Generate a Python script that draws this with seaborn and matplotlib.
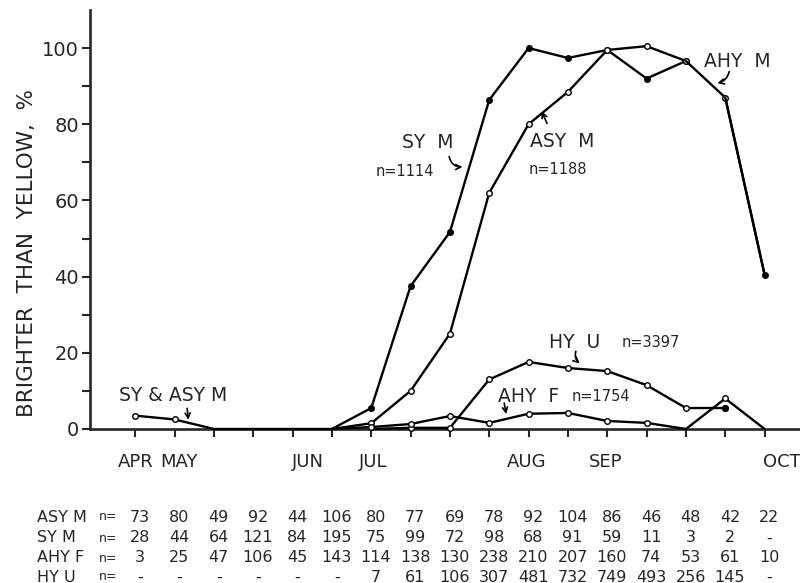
import numpy as np
import pandas as pd
import matplotlib
matplotlib.use("Agg")
import matplotlib.pyplot as plt
import seaborn as sns
from matplotlib.patches import FancyArrowPatch
from matplotlib.transforms import blended_transform_factory

# half-month sampling periods, APR .. early OCT
periods = list(range(17))
month_labels = ["APR", "MAY", "JUN", "JUL", "AUG", "SEP", "OCT"]
month_pos = [0, 1.1, 4.4, 6.05, 9.95, 11.95, 16.45]

# % brighter than yellow
early_x = [0, 1, 2, 3, 4, 5]
early_y = [3.5, 2.5, 0, 0, 0, 0]

sym_x = [5, 6, 7, 8, 9, 10, 11, 12, 13, 14]
sym_y = [0, 5.5, 37.5, 51.7, 86.4, 100, 97.4, 99.5, 92, 96.6]

asym_x = [5, 6, 7, 8, 9, 10, 11, 12, 13, 14]
asym_y = [0, 1.5, 10, 25, 62, 80, 88.5, 99.5, 100.5, 96.6]

ahym_x = [14, 15, 16]
ahym_y = [96.6, 87, 40.5]

hyu_x = [6, 7, 8, 9, 10, 11, 12, 13, 14, 15]
hyu_y = [0, 0.3, 0.3, 13, 17.6, 16, 15.2, 11.5, 5.5, 5.5]

ahyf_x = [5, 6, 7, 8, 9, 10, 11, 12, 13, 14, 15, 16]
ahyf_y = [0, 0.5, 1.3, 3.4, 1.6, 4, 4.2, 2.1, 1.6, 0, 8, 0]

# sample sizes table under the chart
row_names = ["ASY M", "SY M", "AHY F", "HY U"]
asym_n = ["73", "80", "49", "92", "44", "106", "80", "77", "69", "78", "92", "104", "86", "46", "48", "42", "22"]
sym_n = ["28", "44", "64", "121", "84", "195", "75", "99", "72", "98", "68", "91", "59", "11", "3", "2", "-"]
ahyf_n = ["3", "25", "47", "106", "45", "143", "114", "138", "130", "238", "210", "207", "160", "74", "53", "61", "10"]
hyu_n = ["-", "-", "-", "-", "-", "-", "7", "61", "106", "307", "481", "732", "749", "493", "256", "145", "-"]
table_rows = [asym_n, sym_n, ahyf_n, hyu_n]

sns.set_style("ticks")
plt.rcParams["font.family"] = ["DejaVu Sans"]

fig = plt.figure(figsize=(8, 5.83), dpi=100)
ax = fig.add_axes([0.1125, 0.2642, 0.8875, 0.7187])


def draw(x, y, filled=False, mark=None):
    if mark is None:
        mark = [i for i, v in enumerate(y) if v > 0.2]
    sns.lineplot(
        x=x, y=y, ax=ax, color="black", lw=1.7,
        marker="o", markersize=4,
        markerfacecolor="black" if filled else "white",
        markeredgecolor="black", markeredgewidth=1,
        markevery=mark, clip_on=False, zorder=3,
    )


draw(early_x, early_y)
draw(sym_x, sym_y, filled=True)
draw(asym_x, asym_y)
draw(ahym_x, ahym_y, mark=[1])
draw(ahym_x[1:], ahym_y[1:], filled=True, mark=[1])
draw(hyu_x, hyu_y)
draw(hyu_x[-1:], hyu_y[-1:], filled=True)
draw(ahyf_x, ahyf_y)

ax.set_xlim(-1.15, 16.9)
ax.set_ylim(0, 110)
sns.despine(ax=ax)
ax.spines["left"].set_linewidth(1.9)
ax.spines["bottom"].set_linewidth(1.9)

ax.set_yticks([0, 20, 40, 60, 80, 100])
ax.set_yticks([10, 30, 50, 70, 90], minor=True)
ax.tick_params(axis="y", which="both", length=6, width=1.5, labelsize=14, pad=2)
ax.set_xticks(periods)
ax.set_xticklabels([])
ax.tick_params(axis="x", which="major", length=6, width=1.5, direction="out")
ax.set_ylabel("")
ax.set_xlabel("")

tr = blended_transform_factory(ax.transData, fig.transFigure)
for pos, name in zip(month_pos, month_labels):
    ax.text(pos, 1 - 462 / 583, name, transform=tr, ha="center", va="center",
            fontsize=13, clip_on=False)

fig.text(0.034, 1 - 253 / 583, "BRIGHTER  THAN  YELLOW,  %", rotation=90,
         ha="center", va="center", fontsize=15.5)

# curve labels
lab = dict(ha="center", va="center", fontsize=13.5)
small = dict(ha="center", va="center", fontsize=10.5)


def arrow(tail, head, rad=0.0):
    ax.add_patch(FancyArrowPatch(tail, head, arrowstyle="->", lw=1.2,
                                 mutation_scale=9, color="black",
                                 connectionstyle=f"arc3,rad={rad}",
                                 shrinkA=0, shrinkB=0, zorder=4))


ax.text(0.97, 8.9, "SY & ASY M", **lab)
arrow((1.32, 5.4), (1.35, 2.4))

ax.text(7.44, 75.1, "SY  M", **lab)
ax.text(6.85, 67.5, "n=1114", **small)
arrow((7.98, 71.5), (8.32, 68.8), rad=0.4)

ax.text(10.85, 75.6, "ASY  M", **lab)
ax.text(10.75, 68.2, "n=1188", **small)
arrow((10.47, 80.2), (10.33, 83.4))

ax.text(15.31, 96.6, "AHY  M", **lab)
arrow((15.1, 93.8), (14.8, 90.8), rad=-0.3)

ax.text(11.18, 22.8, "HY  U", **lab)
ax.text(13.1, 22.8, "n=3397", **small)
arrow((11.2, 20.4), (11.3, 17.2), rad=0.3)

ax.text(9.99, 8.4, "AHY  F", **lab)
ax.text(11.85, 8.4, "n=1754", **small)
arrow((9.38, 6.8), (9.43, 3.9))

# sample size table
row_y = [517, 538, 558, 577]
for name, vals, py in zip(row_names, table_rows, row_y):
    yf = 1 - py / 583
    fig.text(37 / 800, yf, name, ha="left", va="center", fontsize=11.5)
    fig.text(108 / 800, yf, "n=", ha="center", va="center", fontsize=9)
    for i, v in zip(periods, vals):
        ax.text(i + 0.12, yf, v, transform=tr, ha="center", va="center",
                fontsize=11.5, clip_on=False)

fig.savefig("out.png", dpi=100)
